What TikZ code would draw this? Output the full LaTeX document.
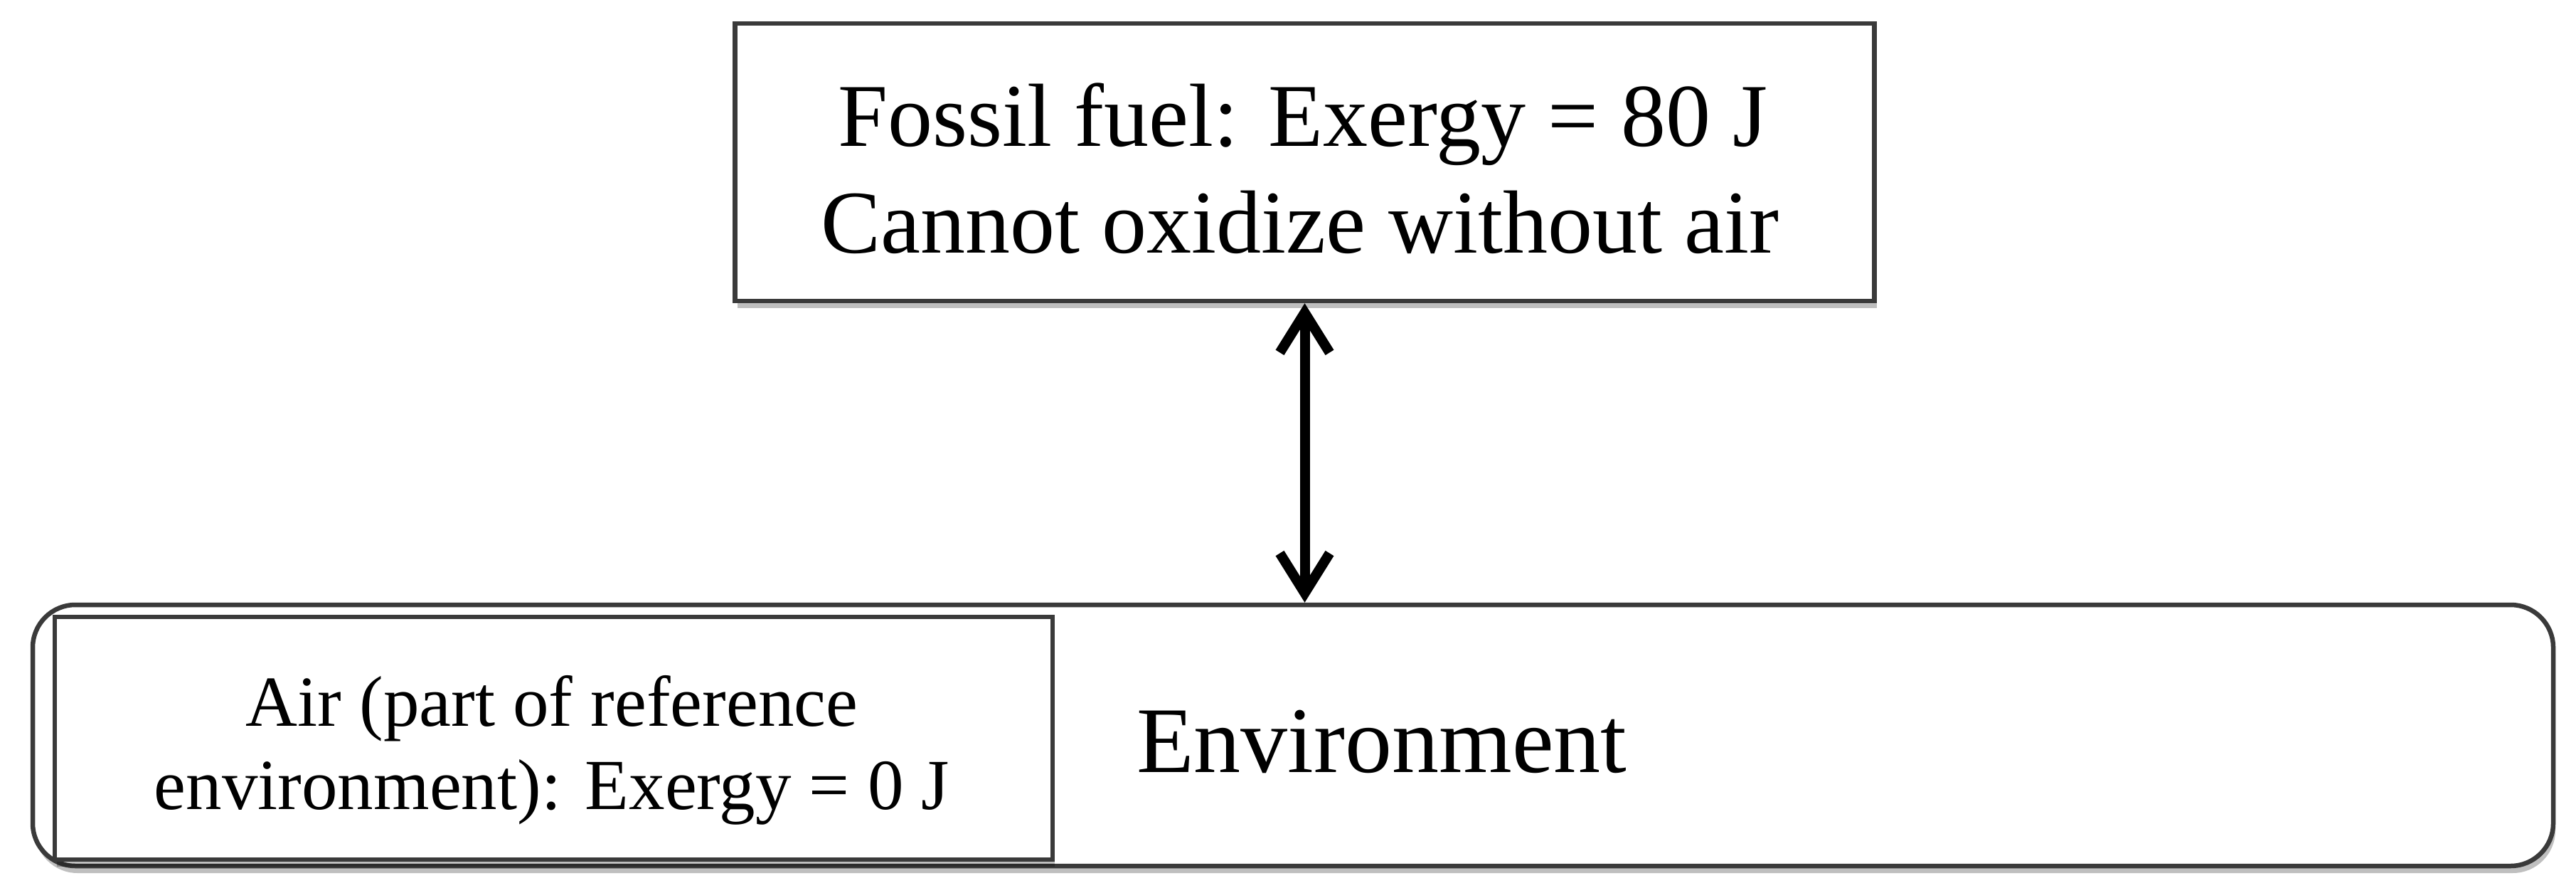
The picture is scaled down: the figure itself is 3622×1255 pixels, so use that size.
\documentclass[tikz,border=0pt]{standalone}
\usepackage{fontspec}
\setmainfont{Liberation Serif}
\usetikzlibrary{arrows.meta,shadows}
\definecolor{edge}{HTML}{3A3A3A}
\tikzset{
  boxshadow/.style={drop shadow={shadow xshift=3pt, shadow yshift=-10pt, opacity=0.25, fill=black}},
  plainbox/.style={draw=edge, line width=6.5pt, fill=white, inner sep=0pt, boxshadow},
  roundbox/.style={plainbox, rounded corners=60pt},
  bigtxt/.style={inner sep=0pt, font=\fontsize{126pt}{150pt}\selectfont},
  envtxt/.style={inner sep=0pt, font=\fontsize{132pt}{150pt}\selectfont},
  airtxt/.style={inner sep=0pt, font=\fontsize{101pt}{117pt}\selectfont},
  link/.style={line width=14pt, black, {Straight Barb[length=56pt,width=70pt]}-{Straight Barb[length=56pt,width=70pt]}}
}
\begin{document}
\begin{tikzpicture}[x=1pt,y=-1pt]
\useasboundingbox (0,0) rectangle (3622,1255);
% environment
\node[roundbox, minimum width=3544pt, minimum height=367pt] (env) at (1818,1033.5) {};
\node[plainbox, minimum width=1403pt, minimum height=341pt] (air) at (778.5,1037.5) {};
% fossil fuel box
\node[plainbox, minimum width=1602pt, minimum height=390pt] (fuel) at (1834.5,228) {};
% texts
\node[bigtxt, anchor=base] (fuel1) at (1832,205) {Fossil fuel: Exergy = 80 J};
\node[bigtxt, anchor=base] (fuel2) at (1828,355) {Cannot oxidize without air};
\node[airtxt, anchor=base] (air1) at (776,1020) {Air (part of reference};
\node[airtxt, anchor=base] (air2) at (776,1137) {environment): Exergy = 0 J};
\node[envtxt, anchor=base west] (envlabel) at (1598,1085) {Environment};
% connector
\draw[link] (fuel.south) -- (fuel.south |- env.north);
\end{tikzpicture}
\end{document}
